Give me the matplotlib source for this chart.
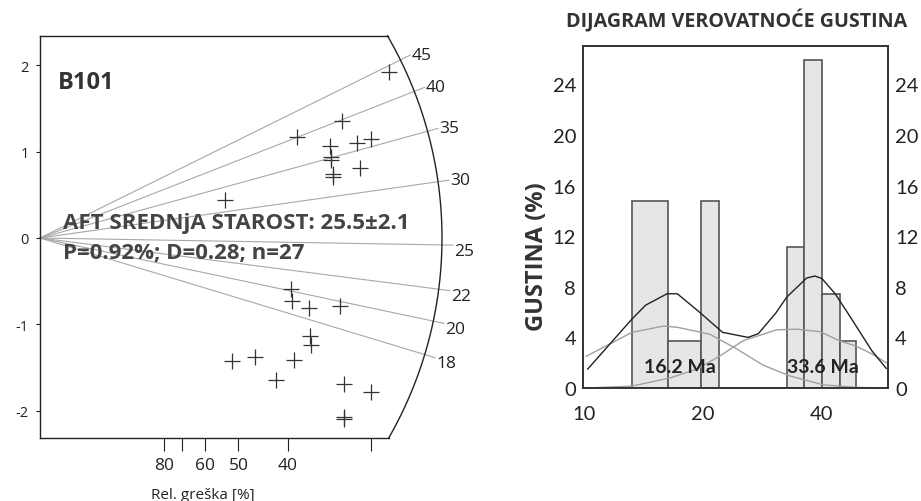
import numpy as np
import matplotlib
matplotlib.use("Agg")
import matplotlib.pyplot as plt
from matplotlib import font_manager

# ---------------------------------------------------------------
# Radial (Galbraith) plot data: precision (1/rel. error) and z
# ---------------------------------------------------------------
precision = [3.52, 3.04, 2.59, 2.92, 3.20, 3.34, 2.93, 2.93, 2.95, 2.95, 3.23, 1.86,
             2.53, 2.54, 2.71, 3.02, 2.72, 2.73, 1.94, 2.17, 2.38, 2.56, 3.06, 3.34,
             3.06, 3.06]
z_score = [1.92, 1.36, 1.17, 1.07, 1.10, 1.15, 0.94, 0.90, 0.74, 0.71, 0.81, 0.44,
           -0.59, -0.73, -0.81, -0.79, -1.13, -1.24, -1.43, -1.38, -1.65, -1.41, -1.69,
           -1.78, -2.07, -2.10]
central_age = 25.5
ray_ages = [18, 20, 22, 25, 30, 35, 40, 45]
rel_err_ticks = [80, 70, 60, 50, 40, 30]
rel_err_labels = ["80", "", "60", "50", "40", ""]
z_ticks = [-2, -1, 0, 1, 2]

# ---------------------------------------------------------------
# Age histogram + probability density curves
# ---------------------------------------------------------------
bin_left = [13.2, 16.3, 19.7, 32.7, 36.0, 40.1, 44.5]
bin_right = [16.3, 19.7, 21.9, 36.0, 40.1, 44.5, 48.8]
bin_counts = [4, 1, 4, 3, 7, 2, 1]
n_grains = 27
peak_ages = [16.2, 33.6]

sum_x = [10.2, 13.2, 14.3, 16.2, 17.2, 19.4, 22.4, 26.0, 27.6, 30.6, 32.6, 36.6,
         38.4, 40.0, 43.2, 47.0, 53.5, 58.2]
sum_y = [1.5, 5.45, 6.55, 7.45, 7.45, 6.1, 4.4, 4.0, 4.3, 5.95, 7.2, 8.7,
         8.85, 8.65, 7.45, 5.7, 2.95, 1.55]
comp1_x = [10.1, 13.2, 15.9, 17.2, 20.8, 24.3, 28.4, 33.2, 40.3, 49.0, 58.5]
comp1_y = [2.5, 4.4, 4.9, 4.8, 4.25, 3.1, 1.8, 0.95, 0.25, 0.05, 0.0]
comp2_x = [10.2, 13.2, 16.5, 19.3, 22.1, 25.3, 30.7, 34.5, 39.6, 44.5, 48.5, 53.5, 58.2]
comp2_y = [0.0, 0.15, 0.8, 1.5, 2.55, 3.75, 4.6, 4.65, 4.45, 3.7, 3.35, 2.7, 2.0]


def first_font(names):
    have = {f.name for f in font_manager.fontManager.ttflist}
    for n in names:
        if n in have:
            return n
    return "DejaVu Sans"


BASE = first_font(["Open Sans", "Lato", "DejaVu Sans"])
NARROW = first_font(["Liberation Sans Narrow", "Lato", "Open Sans"])
plt.rcParams["font.family"] = [BASE, "DejaVu Sans"]
plt.rcParams["axes.unicode_minus"] = False

W, H = 921, 502
fig = plt.figure(figsize=(W / 100, H / 100), dpi=100)

# ---------------- left: radial plot ----------------
PX_X, PX_Y = 99.2, 86.3      # pixels per data unit
R_ARC, R_RAY = 402, 413      # arc / ray radius in pixels
ax1 = fig.add_axes([40 / W, 63 / H, 440 / W, 402 / H])
ax1.set_xlim(0, 440 / PX_X)
y_lo, y_hi = -200 / PX_Y, 202 / PX_Y
ax1.set_ylim(y_lo, y_hi)

for s in ["top", "right"]:
    ax1.spines[s].set_visible(False)
for s in ["left", "bottom"]:
    ax1.spines[s].set_color("#222")
    ax1.spines[s].set_linewidth(1.0)

th_top = np.arcsin(y_hi * PX_Y / R_ARC)
th_bot = np.arcsin(y_lo * PX_Y / R_ARC)
th = np.linspace(th_bot, th_top, 200)
ax1.plot(R_ARC * np.cos(th) / PX_X, R_ARC * np.sin(th) / PX_Y, color="#222", lw=1.0, clip_on=False)
ax1.plot([0, R_ARC * np.cos(th_top) / PX_X], [y_hi, y_hi], color="#222", lw=1.0, clip_on=False)
ax1.spines["bottom"].set_bounds(0, R_ARC * np.cos(th_bot) / PX_X)

for t in ray_ages:
    slope = np.log(t / central_age)
    x_end = R_RAY / np.hypot(PX_X, slope * PX_Y)
    ax1.plot([0, x_end], [0, slope * x_end], color="#a8a8a8", lw=0.8, clip_on=False, zorder=1)
    dy = 0 if t > central_age else -4
    ax1.annotate(str(t), (x_end, slope * x_end), xytext=(1, dy), textcoords="offset points",
                 ha="left", va="center", fontsize=12.5, color="#222", annotation_clip=False)

ax1.plot(precision, z_score, "+", ms=12, mew=0.9, color="#333", zorder=3)

ax1.set_yticks(z_ticks)
ax1.set_yticklabels([str(v) for v in z_ticks])
ax1.tick_params(axis="y", direction="out", length=3, width=0.8, labelsize=10.5, pad=5, colors="#222")
ax1.set_xticks([100 / r for r in rel_err_ticks])
ax1.set_xticklabels(rel_err_labels)
ax1.tick_params(axis="x", direction="out", length=9, width=0.8, labelsize=12.5, pad=5, colors="#222")

ax1.text(0.18, 1.81, "B101", fontsize=17, fontweight="bold", color="#333", va="center")
ax1.text(0.23, 0.185, "AFT SREDNjA STAROST: 25.5\u00b12.1", fontsize=16, fontweight="bold",
         color="#444", va="center", zorder=4)
ax1.text(0.23, -0.165, "P=0.92%; D=0.28; n=27", fontsize=16, fontweight="bold",
         color="#444", va="center", zorder=4)
fig.text(203 / W, 1 - 496 / H, "Rel. gre\u0161ka [%]", ha="center", va="center", fontsize=11, color="#222")

# ---------------- right: histogram + density ----------------
ax2 = fig.add_axes([583 / W, 113 / H, 305 / W, 342 / H])
ax2.set_xscale("log")
ax2.set_xlim(9.92, 58.8)
ax2.set_ylim(0, 342 / 12.65)

pct = np.array(bin_counts) / n_grains * 100
widths = np.array(bin_right) - np.array(bin_left)
ax2.bar(bin_left, pct, width=widths, align="edge", color="#e6e6e6", edgecolor="#555", lw=1.2, zorder=1)

ax2.plot(comp1_x, comp1_y, color="#a0a0a0", lw=1.0, zorder=2)
ax2.plot(comp2_x, comp2_y, color="#a0a0a0", lw=1.0, zorder=2)
ax2.plot(sum_x, sum_y, color="#222", lw=1.0, zorder=3)

for spine in ax2.spines.values():
    spine.set_color("#333")
    spine.set_linewidth(1.4)

ax2.set_xticks([10, 20, 40])
ax2.set_xticklabels(["10", "20", "40"])
ax2.xaxis.set_minor_locator(matplotlib.ticker.NullLocator())
ax2.set_yticks(np.arange(0, 25, 4))
ax2.tick_params(axis="both", length=0, labelsize=14.5, colors="#222")
ax2.tick_params(axis="x", pad=12)
ax2.tick_params(axis="y", pad=5, labelright=True)
for lab in ax2.get_xticklabels():
    lab.set_family([NARROW, "DejaVu Sans"])
for tick in ax2.yaxis.get_major_ticks():
    tick.label1.set_family([NARROW, "DejaVu Sans"])
    tick.label2.set_family([NARROW, "DejaVu Sans"])

ax2.set_ylabel("GUSTINA (%)", fontsize=17, fontweight="bold", color="#333")
ax2.yaxis.set_label_coords(-0.112, 0.386)

ax2.text(17.5, 1.7, f"{peak_ages[0]} Ma", ha="center", va="center", fontsize=14,
         fontweight="bold", color="#222", family=[NARROW, "DejaVu Sans"], zorder=4)
ax2.text(40.3, 1.7, f"{peak_ages[1]} Ma", ha="center", va="center", fontsize=14,
         fontweight="bold", color="#222", family=[NARROW, "DejaVu Sans"], zorder=4)

fig.text(737 / W, 1 - 21 / H, "DIJAGRAM VEROVATNO\u0106E GUSTINA", ha="center", va="center",
         fontsize=14.2, fontweight="bold", color="#333")

fig.savefig("out.png", dpi=100)
